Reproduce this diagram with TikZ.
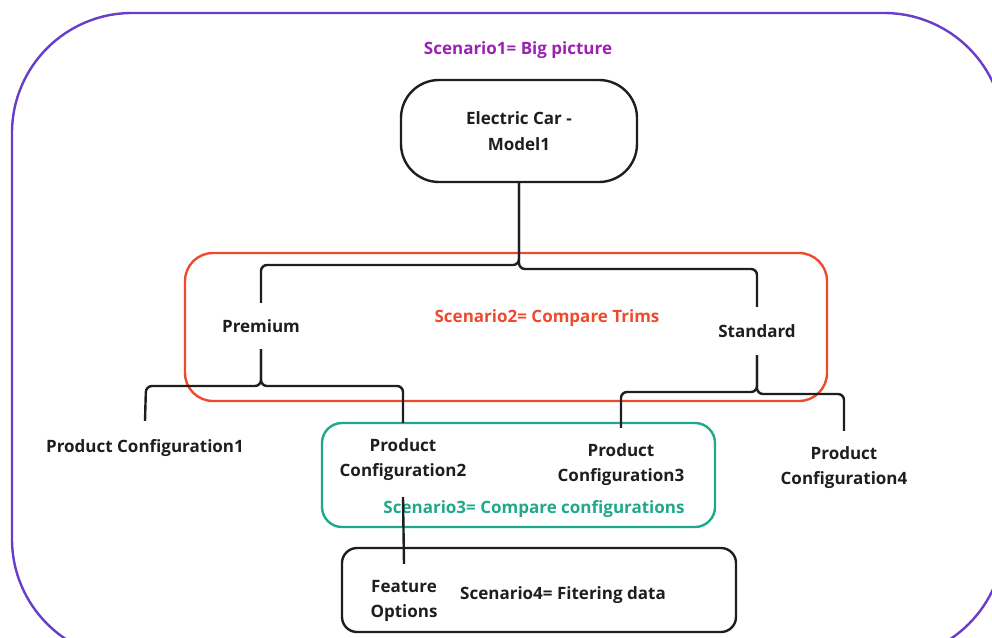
\documentclass[tikz,border=0pt]{standalone}
\usepackage{fontspec}
\setmainfont{Open Sans}
\definecolor{frameviolet}{HTML}{6A3DC8}
\definecolor{titleviolet}{HTML}{9C22B4}
\definecolor{trimred}{HTML}{F04A2E}
\definecolor{configteal}{HTML}{1FA88A}
\definecolor{ink}{HTML}{1E1E1E}
\tikzset{
  lbl/.style={font=\fontsize{17}{25}\selectfont\bfseries, text=ink, align=center, inner sep=0pt},
  conn/.style={draw=ink, line width=2.4pt, rounded corners=6pt},
  boxline/.style={line width=2.4pt},
}
\begin{document}
\begin{tikzpicture}[x=1pt,y=-1pt]
\useasboundingbox (0,0) rectangle (992,637);
\clip (0,0) rectangle (992,637);

% outer frame (scenario 1)
\draw[frameviolet, line width=2.4pt, rounded corners=120pt] (12,13) rectangle (1004,659);
\node[lbl, text=titleviolet] (sc1) at (518,50) {Scenario1= Big picture};

% scenario frames
\draw[trimred, boxline, rounded corners=28pt] (185,253) rectangle (827,401);
\node[lbl, text=trimred] (sc2) at (547,318) {Scenario2= Compare Trims};

\draw[configteal, boxline, rounded corners=20pt] (322,423) rectangle (715,527);
\node[lbl, text=configteal] (sc3) at (534,509) {Scenario3= Compare configurations};

\draw[ink, boxline, rounded corners=15pt] (342,548) rectangle (736,632);
\node[lbl] (sc4) at (563,595) {Scenario4= Fitering data};

% tree nodes
\node[lbl, draw=ink, boxline, rounded corners=38pt, minimum width=236pt, minimum height=102pt] (car) at (519,131) {Electric Car -\\[1pt]Model1};
\node[lbl, minimum height=46pt] (prem) at (261,326) {Premium};
\node[lbl, minimum height=48pt] (std) at (757,331) {Standard};
\node[lbl, minimum height=54pt] (pc1) at (145,448) {Product Configuration1};
\node[lbl, minimum height=74pt] (pc2) at (403,460) {Product\\Configuration2};
\node[lbl, minimum height=74pt] (pc3) at (621,465) {Product\\Configuration3};
\node[lbl, minimum height=74pt] (pc4) at (844,468) {Product\\Configuration4};
\node[lbl, minimum height=74pt] (feat) at (404,601) {Feature\\Options};

% connectors
\draw[conn] (car.south) -- (519,265) -- (261,265) -- (prem.north);
\draw[conn] (car.south) -- (519,269) -- (757,269) -- (std.north);
\draw[conn] (prem.south) -- (261,386) -- (146,386) -- (pc1.north);
\draw[conn] (prem.south) -- (261,386) -- (403,386) -- (pc2.north);
\draw[conn] (std.south) -- (757,392) -- (621,392) -- (pc3.north);
\draw[conn] (std.south) -- (757,394) -- (844,394) -- (pc4.north);
\draw[conn] (pc2.south) -- (feat.north);
\end{tikzpicture}
\end{document}
